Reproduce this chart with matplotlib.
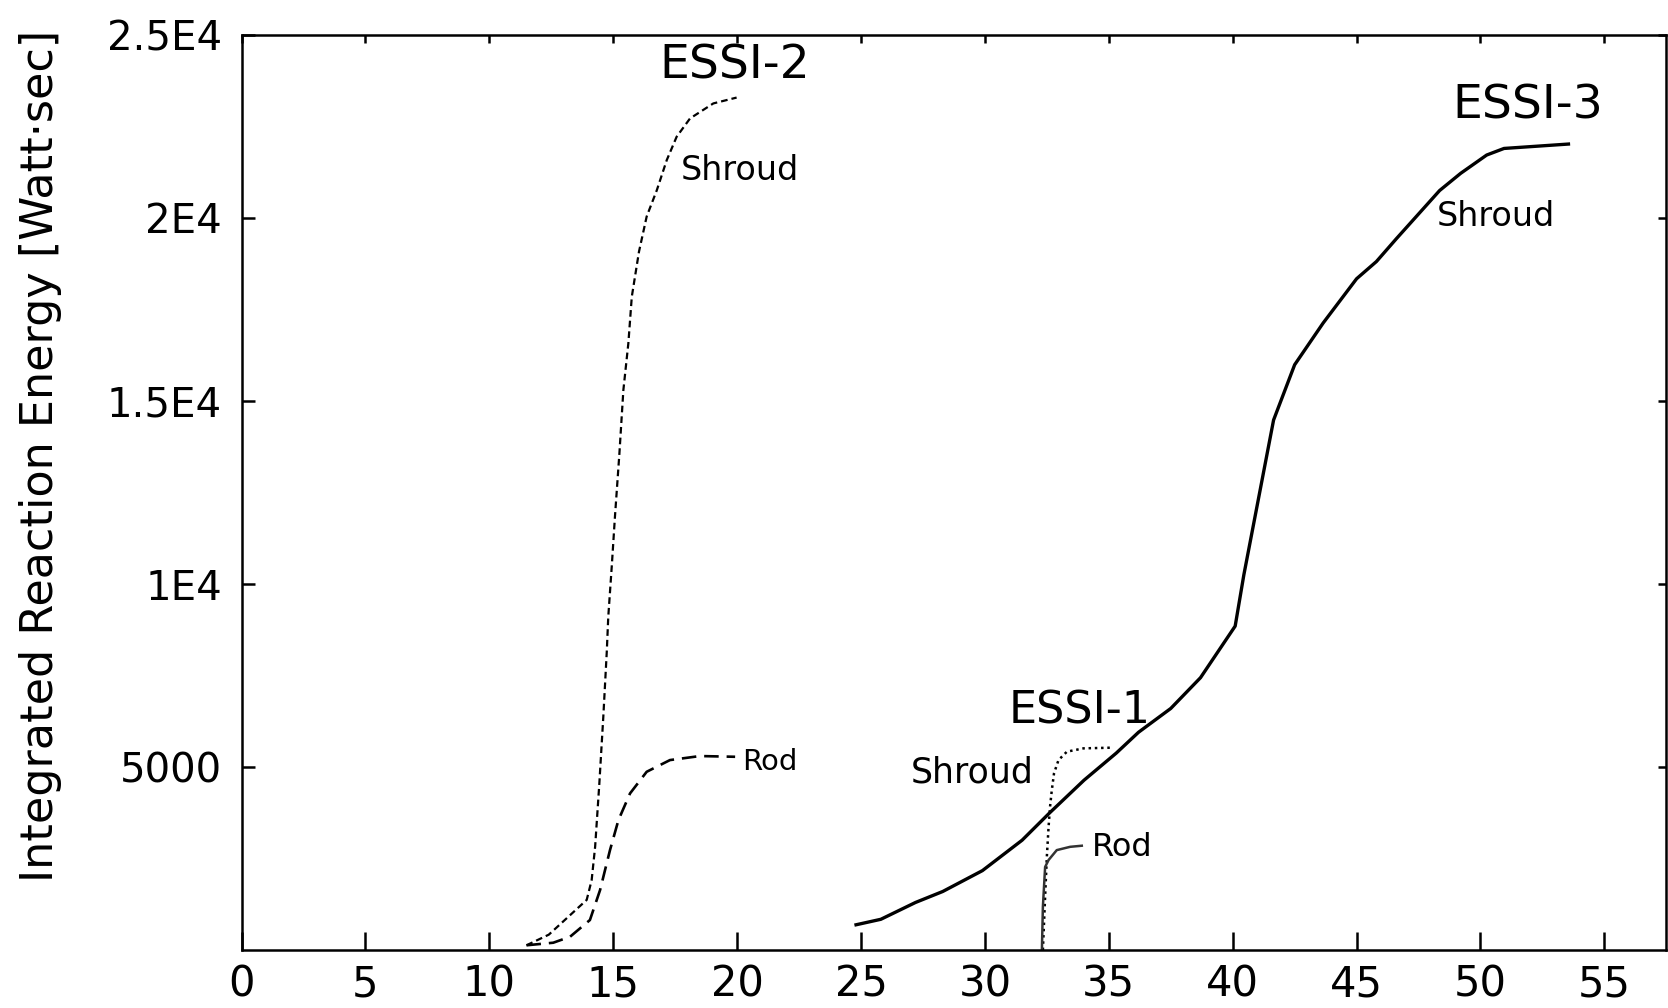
import matplotlib
matplotlib.use("Agg")
import matplotlib.pyplot as pl

# ESSI-2 (dashed curves)
essi2_shroud_t = [11.5, 12.4, 13.19, 13.93, 14.13, 14.27, 14.44, 14.60, 14.74, 14.80, 14.94, 15.07,
                  15.25, 15.41, 15.61, 15.75, 16.04, 16.35, 16.76, 17.16, 17.56, 18.1, 19.04, 19.98]
essi2_shroud_e = [130, 420, 910, 1370, 1910, 2820, 4550, 6370, 8150, 9100, 10470, 11840,
                  13570, 15300, 16570, 17850, 19080, 20040, 20760, 21580, 22220, 22720, 23130, 23290]
essi2_rod_t = [11.5, 12.58, 13.26, 14.06, 14.47, 14.87, 15.21, 15.68, 16.35, 17.29, 18.5, 19.92]
essi2_rod_e = [130, 200, 364, 820, 1640, 2730, 3550, 4280, 4870, 5190, 5300, 5280]

# ESSI-3 shroud (solid)
essi3_t = [24.8, 25.8, 27.2, 28.3, 29.9, 31.5, 32.6, 34.0, 35.3, 36.2, 37.5, 38.7, 40.1, 40.45,
           41.65, 42.5, 43.65, 45.0, 45.8, 46.6, 48.35, 49.2, 50.25, 50.95, 53.55]
essi3_e = [690, 840, 1300, 1600, 2170, 3000, 3740, 4640, 5380, 5950, 6600, 7440, 8850, 10250,
           14480, 15990, 17130, 18340, 18810, 19430, 20750, 21220, 21720, 21900, 22020]

# ESSI-1
essi1_shroud_t = [32.34, 32.43, 32.50, 32.57, 32.63, 32.70, 32.79, 32.97, 33.31, 33.98, 35.19]
essi1_shroud_e = [0, 1460, 2550, 3370, 3920, 4370, 4830, 5190, 5420, 5510, 5530]
essi1_rod_t = [32.30, 32.34, 32.43, 32.57, 32.90, 33.44, 33.91]
essi1_rod_e = [0, 1180, 2270, 2460, 2730, 2820, 2850]

xticks = [0, 5, 10, 15, 20, 25, 30, 35, 40, 45, 50, 55]
yticks = [5000, 10000, 15000, 20000, 25000]
ylabels = ["5000", "1E4", "1.5E4", "2E4", "2.5E4"]

fam = "DejaVu Sans"

fig = pl.figure(figsize=(16.68, 10.08), dpi=100)
ax = fig.add_axes([0.1448, 0.0575, 0.999 - 0.1448, 0.9653 - 0.0575])

ax.plot(essi2_shroud_t, essi2_shroud_e, c='k', lw=1.6, dashes=(3, 1.8))
ax.plot(essi2_rod_t, essi2_rod_e, c='k', lw=1.9, dashes=(5.5, 3))
ax.plot(essi3_t, essi3_e, c='k', lw=2.4)
ax.plot(essi1_shroud_t, essi1_shroud_e, c='k', lw=1.8, dashes=(1, 1.5))
ax.plot(essi1_rod_t, essi1_rod_e, c='#333333', lw=1.8)

ax.set_xlim(0, 57.5)
ax.set_ylim(0, 25000)
ax.set_xticks(xticks)
ax.set_xticklabels([str(v) for v in xticks], family=fam, fontsize=30)
ax.set_yticks(yticks)
ax.set_yticklabels(ylabels, family=fam, fontsize=29)
ax.tick_params(direction='in', top=True, right=True, width=1.8)
ax.tick_params(axis='x', length=13, pad=10)
ax.tick_params(axis='y', length=9, pad=14)
for t in ax.xaxis.get_major_ticks():
    t.tick2line.set_markersize(6)
for t in ax.yaxis.get_major_ticks():
    t.tick2line.set_markersize(6)
for s in ax.spines.values():
    s.set_linewidth(1.8)

# labels on the curves
ax.text(19.9, 24150, "ESSI-2", ha='center', va='center', fontsize=34, family=fam)
ax.text(17.73, 21310, "Shroud", ha='left', va='center', fontsize=24, family=fam)
ax.text(20.2, 5130, "Rod", ha='left', va='center', fontsize=21, family=fam)
ax.text(30.95, 6530, "ESSI-1", ha='left', va='center', fontsize=32, family=fam)
ax.text(27.0, 4850, "Shroud", ha='left', va='center', fontsize=25, family=fam)
ax.text(34.3, 2800, "Rod", ha='left', va='center', fontsize=23, family=fam)
ax.text(48.86, 23050, "ESSI-3", ha='left', va='center', fontsize=34, family=fam)
ax.text(48.22, 20030, "Shroud", ha='left', va='center', fontsize=24, family=fam)

fig.text(0.024, 0.548, "Integrated Reaction Energy [Watt\u00b7sec]", rotation=90,
         ha='center', va='center', fontsize=32, family=fam)

fig.savefig("out.png", dpi=100)
